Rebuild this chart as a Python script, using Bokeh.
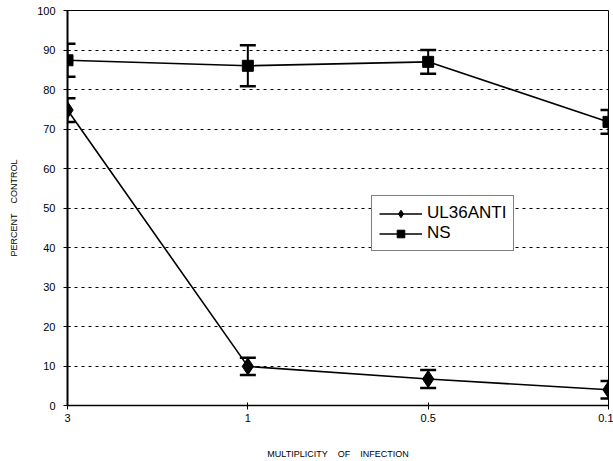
from bokeh.plotting import figure
from bokeh.models import ColumnDataSource, Whisker, TeeHead, Range1d, FixedTicker, Legend, LegendItem
from bokeh.embed import file_html
from bokeh.resources import INLINE

moi_labels = ["3", "1", "0.5", "0.1"]
ul36_vals = [74.8, 9.9, 6.7, 4.0]
ul36_err = [3.0, 2.2, 2.3, 2.2]
ns_vals = [87.4, 86.0, 87.0, 71.8]
ns_err = [4.2, 5.2, 3.0, 3.0]
y_ticks = [0, 10, 20, 30, 40, 50, 60, 70, 80, 90, 100]

xs = list(range(len(moi_labels)))
FONT = "Liberation Sans"

p = figure(width=613, height=461, output_backend="svg", toolbar_location=None,
           x_range=Range1d(0, len(moi_labels) - 1), y_range=Range1d(0, 100),
           min_border_left=67, min_border_right=5, min_border_top=10, min_border_bottom=50)
p.background_fill_color = "white"
p.outline_line_color = "black"
p.outline_line_width = 1

p.xgrid.visible = False
p.ygrid.grid_line_color = "black"
p.ygrid.grid_line_dash = "3 4"
p.ygrid.grid_line_width = 1

p.xaxis.ticker = FixedTicker(ticks=xs)
p.xaxis.major_label_overrides = {i: l for i, l in zip(xs, moi_labels)}
p.yaxis.ticker = FixedTicker(ticks=y_ticks)
for ax in (p.xaxis, p.yaxis):
    ax.axis_line_color = "black"
    ax.major_tick_line_color = "black"
    ax.minor_tick_line_color = None
    ax.major_tick_in = 3
    ax.major_tick_out = 4
    ax.major_label_text_font = FONT
    ax.major_label_text_font_size = "11px"
    ax.major_label_text_color = "black"
    ax.axis_label_text_font = FONT
    ax.axis_label_text_font_size = "9px"
    ax.axis_label_text_font_style = "normal"
    ax.axis_label_text_color = "black"
p.yaxis.axis_line_width = 2
p.xaxis.axis_line_width = 1.5
p.xaxis.major_label_standoff = 4
p.yaxis.major_label_standoff = 8
p.xaxis.axis_label = "MULTIPLICITY\u00a0\u00a0\u00a0\u00a0OF\u00a0\u00a0\u00a0\u00a0INFECTION"
p.yaxis.axis_label = "PERCENT\u00a0\u00a0\u00a0\u00a0CONTROL"
p.xaxis.axis_label_standoff = 24
p.yaxis.axis_label_standoff = 15

src_u = ColumnDataSource(dict(x=xs, y=ul36_vals,
                              up=[v + e for v, e in zip(ul36_vals, ul36_err)],
                              lo=[v - e for v, e in zip(ul36_vals, ul36_err)]))
src_n = ColumnDataSource(dict(x=xs, y=ns_vals,
                              up=[v + e for v, e in zip(ns_vals, ns_err)],
                              lo=[v - e for v, e in zip(ns_vals, ns_err)]))

for src in (src_u, src_n):
    w = Whisker(source=src, base="x", upper="up", lower="lo", line_color="black", line_width=2,
                upper_head=TeeHead(size=16, line_width=2.5, line_color="black"),
                lower_head=TeeHead(size=16, line_width=2.5, line_color="black"))
    p.add_layout(w)

lu = p.line("x", "y", source=src_u, line_color="black", line_width=1.6)
su = p.scatter("x", "y", source=src_u, marker="diamond", size=17, fill_color="black", line_color="black")
ln = p.line("x", "y", source=src_n, line_color="black", line_width=1.6)
sn = p.scatter("x", "y", source=src_n, marker="square", size=11, fill_color="black", line_color="black")

legend = Legend(items=[LegendItem(label="UL36ANTI", renderers=[lu, su]),
                       LegendItem(label="NS", renderers=[ln, sn])],
                location=(304, 154), orientation="vertical")
legend.label_text_font = FONT
legend.label_text_font_size = "17px"
legend.label_text_color = "black"
legend.glyph_width = 43
legend.glyph_height = 19
legend.label_standoff = 5
legend.label_height = 19
legend.spacing = 0
legend.padding = 7
legend.margin = 0
legend.border_line_color = "black"
legend.border_line_width = 1
legend.background_fill_color = "white"
legend.background_fill_alpha = 1
p.add_layout(legend, "center")

open("out.html", "w").write(file_html(p, INLINE))
